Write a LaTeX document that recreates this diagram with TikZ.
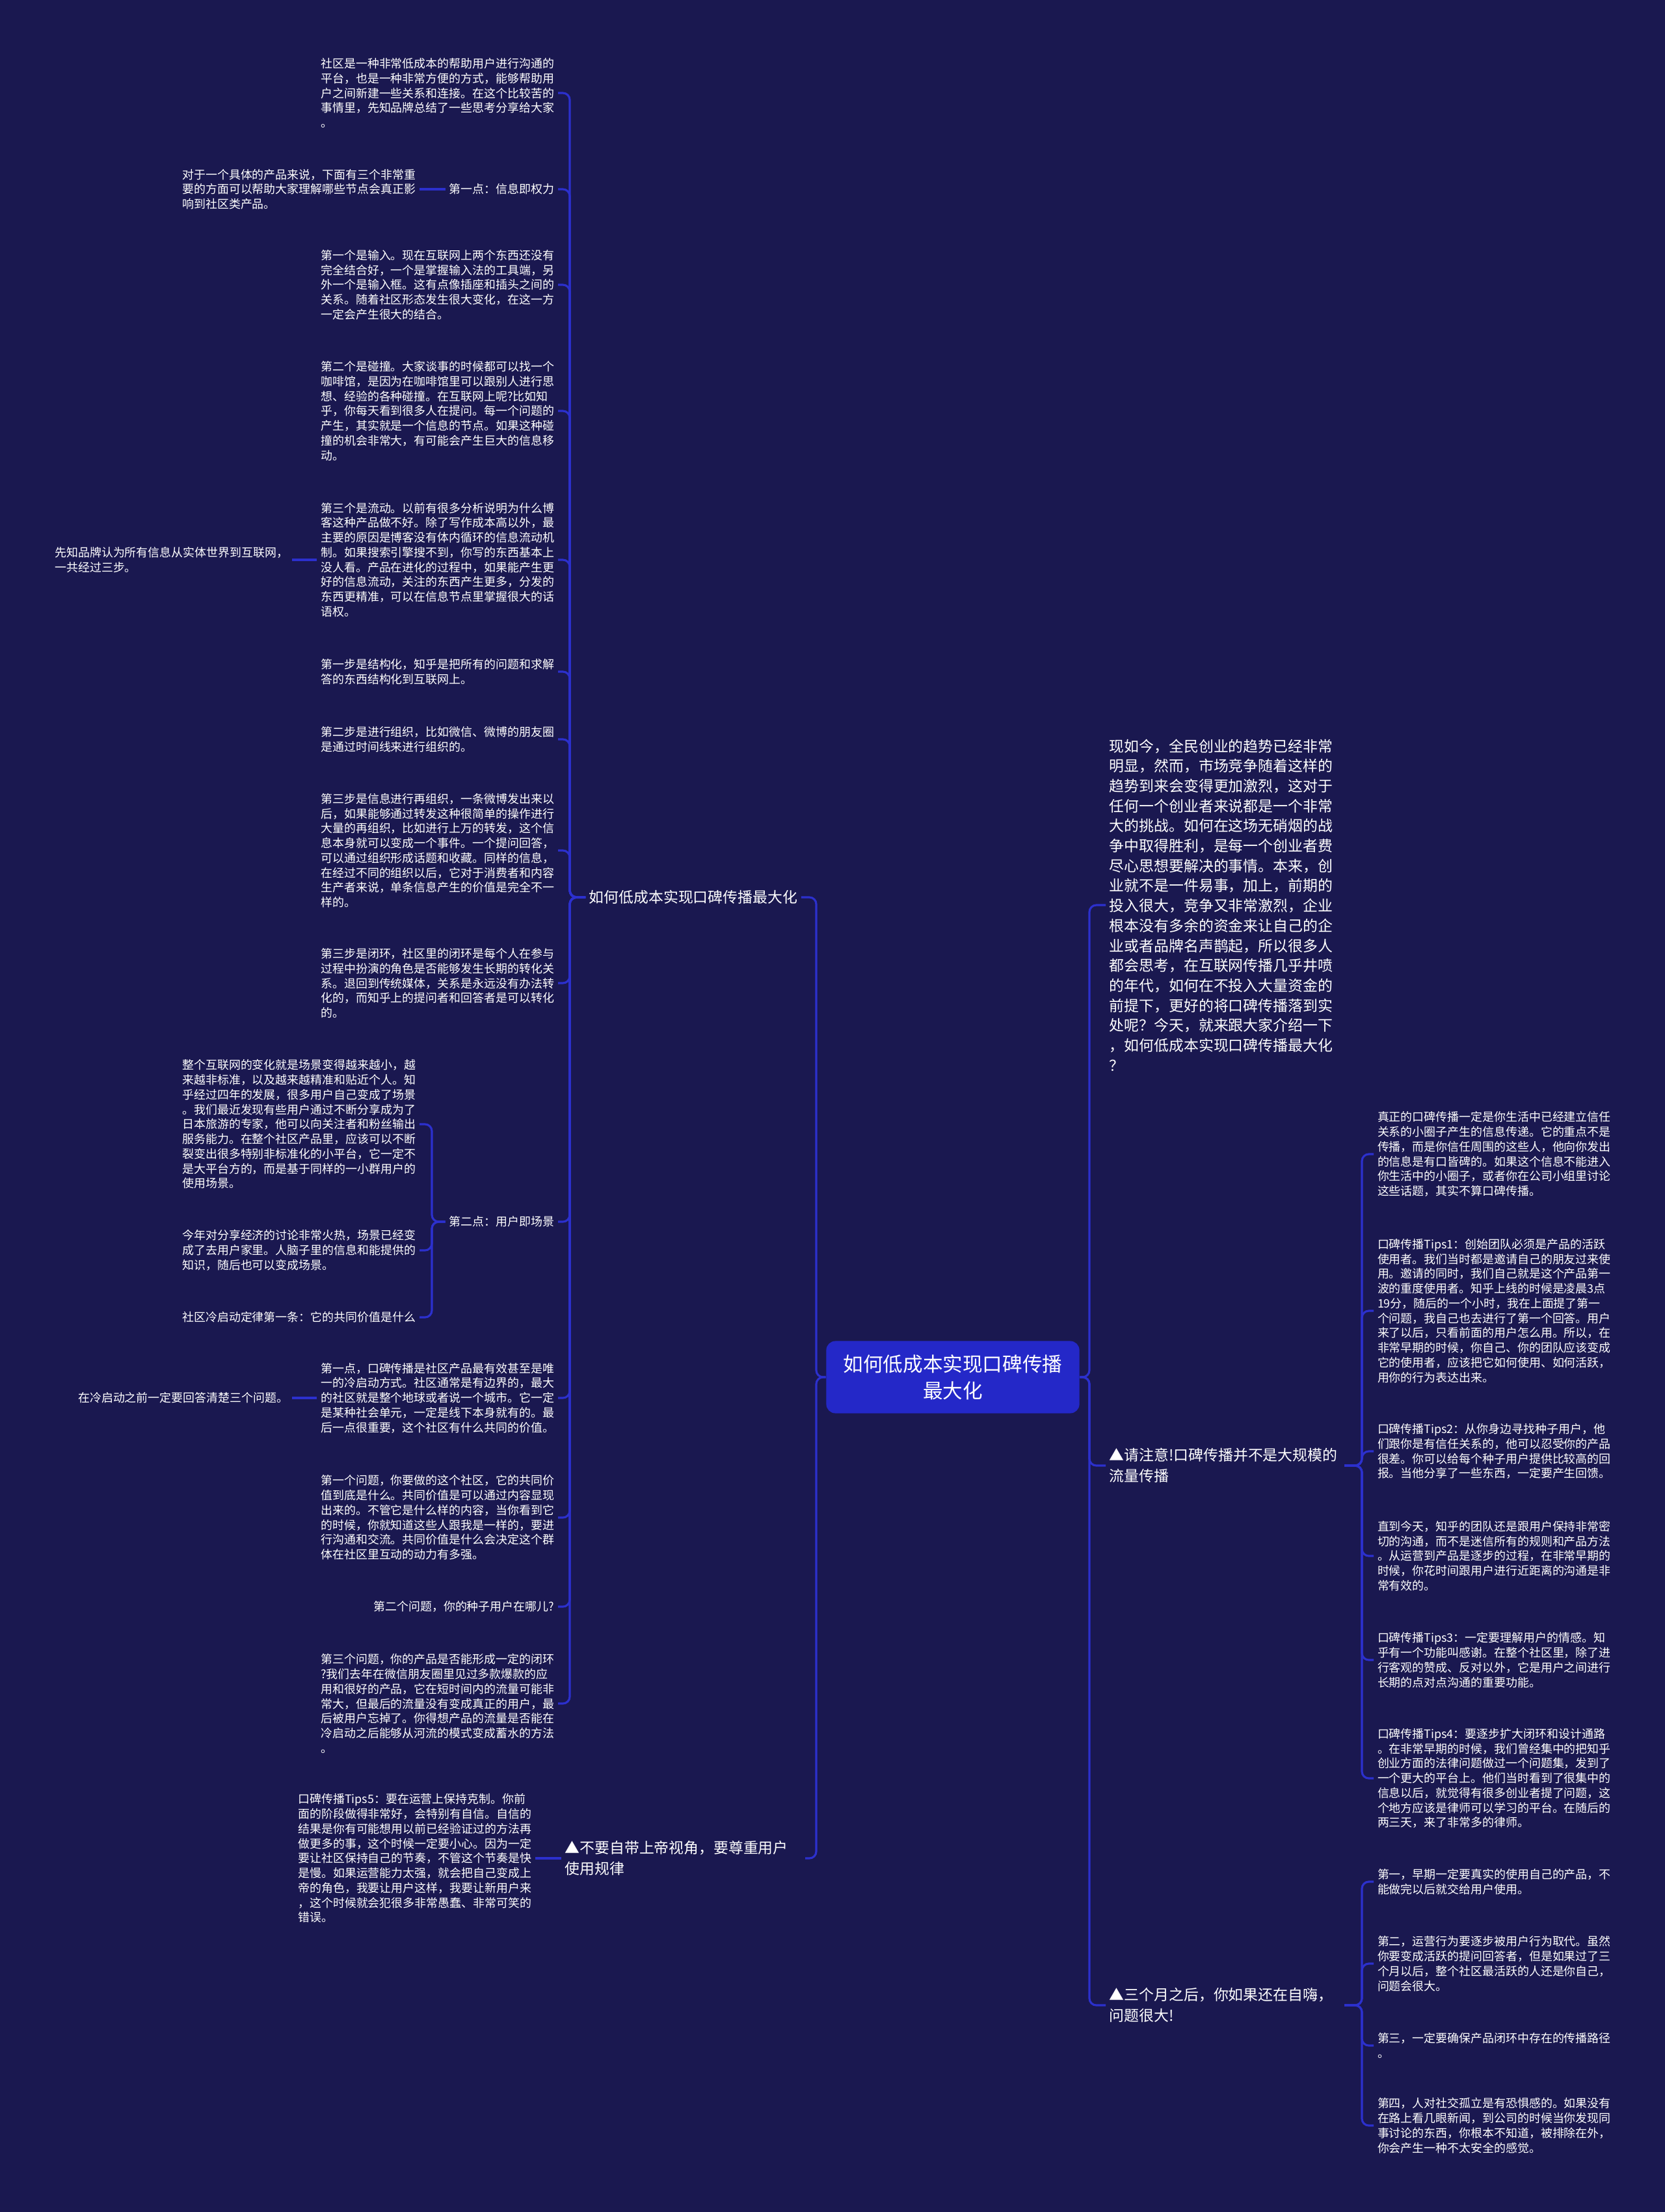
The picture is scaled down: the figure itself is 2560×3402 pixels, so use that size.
\documentclass[tikz,border=0pt]{standalone}
\usepackage{fontspec}
\setmainfont{Noto Sans CJK SC}
\usetikzlibrary{positioning, calc}
\definecolor{BgNavy}{RGB}{26, 24, 80}
\definecolor{LinkBlue}{RGB}{44, 48, 205}
\definecolor{RootBlue}{RGB}{36, 40, 200}
\newcommand{\leaffont}{\fontsize{5.1pt}{6.47pt}\selectfont}
\newcommand{\labfont}{\fontsize{6.5pt}{9.2pt}\selectfont}
\newcommand{\introfont}{\fontsize{6.5pt}{8.73pt}\selectfont}

\begin{document}
\begin{tikzpicture}[x=0.01cm, y=-0.01cm,
	leafl/.style={anchor=east, text=white, font=\leaffont, align=left, inner sep=1.5pt},
	leafr/.style={anchor=west, text=white, font=\leaffont, align=left, inner sep=1.5pt},
	lab/.style={text=white, font=\labfont, align=left, inner sep=1.5pt},
	root/.style={fill=RootBlue, rounded corners=4pt, text=white, align=center,
		font=\fontsize{8.7pt}{11.7pt}\selectfont, minimum width=3.89cm, minimum height=1.11cm},
	link/.style={draw=LinkBlue, line width=0.9pt, rounded corners=3pt}]
	\fill[BgNavy] (0,0) rectangle (2560,3402);

	% centre
	\node[root] (root) at (1465,2118) {如何低成本实现口碑传播\\最大化};

	% main branches
	\node[lab, anchor=west] (l1) at (900,1380) {如何低成本实现口碑传播最大化};
	\node[lab, anchor=east, text width=3.63cm] (l2) at (1238,2858) {▲不要自带上帝视角，要尊重用户\\使用规律};
	\node[anchor=west, text=white, font=\introfont, align=left, inner sep=1.5pt] (r1) at (1700,1392) {现如今，全民创业的趋势已经非常\\明显，然而，市场竞争随着这样的\\趋势到来会变得更加激烈，这对于\\任何一个创业者来说都是一个非常\\大的挑战。如何在这场无硝烟的战\\争中取得胜利，是每一个创业者费\\尽心思想要解决的事情。本来，创\\业就不是一件易事，加上，前期的\\投入很大，竞争又非常激烈，企业\\根本没有多余的资金来让自己的企\\业或者品牌名声鹊起，所以很多人\\都会思考，在互联网传播几乎井喷\\的年代，如何在不投入大量资金的\\前提下，更好的将口碑传播落到实\\处呢？今天，就来跟大家介绍一下\\，如何低成本实现口碑传播最大化\\？};
	\node[lab, anchor=west, text width=3.55cm] (r2) at (1700,2254) {▲请注意!口碑传播并不是大规模的\\流量传播};
	\node[lab, anchor=west, text width=3.55cm] (r3) at (1700,3084) {▲三个月之后，你如果还在自嗨，\\问题很大!};

	% left branch: children
	\node[leafl] (a1) at (858,143) {社区是一种非常低成本的帮助用户进行沟通的\\平台，也是一种非常方便的方式，能够帮助用\\户之间新建一些关系和连接。在这个比较苦的\\事情里，先知品牌总结了一些思考分享给大家\\。};
	\node[leafl] (a2) at (858,291) {第一点：信息即权力};
	\node[leafl] (a3) at (858,438) {第一个是输入。现在互联网上两个东西还没有\\完全结合好，一个是掌握输入法的工具端，另\\外一个是输入框。这有点像插座和插头之间的\\关系。随着社区形态发生很大变化，在这一方\\一定会产生很大的结合。};
	\node[leafl] (a4) at (858,632) {第二个是碰撞。大家谈事的时候都可以找一个\\咖啡馆，是因为在咖啡馆里可以跟别人进行思\\想、经验的各种碰撞。在互联网上呢?比如知\\乎，你每天看到很多人在提问。每一个问题的\\产生，其实就是一个信息的节点。如果这种碰\\撞的机会非常大，有可能会产生巨大的信息移\\动。};
	\node[leafl] (a5) at (858,861) {第三个是流动。以前有很多分析说明为什么博\\客这种产品做不好。除了写作成本高以外，最\\主要的原因是博客没有体内循环的信息流动机\\制。如果搜索引擎搜不到，你写的东西基本上\\没人看。产品在进化的过程中，如果能产生更\\好的信息流动，关注的东西产生更多，分发的\\东西更精准，可以在信息节点里掌握很大的话\\语权。};
	\node[leafl] (a6) at (858,1033) {第一步是结构化，知乎是把所有的问题和求解\\答的东西结构化到互联网上。};
	\node[leafl] (a7) at (858,1137) {第二步是进行组织，比如微信、微博的朋友圈\\是通过时间线来进行组织的。};
	\node[leafl] (a8) at (858,1308) {第三步是信息进行再组织，一条微博发出来以\\后，如果能够通过转发这种很简单的操作进行\\大量的再组织，比如进行上万的转发，这个信\\息本身就可以变成一个事件。一个提问回答，\\可以通过组织形成话题和收藏。同样的信息，\\在经过不同的组织以后，它对于消费者和内容\\生产者来说，单条信息产生的价值是完全不一\\样的。};
	\node[leafl] (a9) at (858,1512) {第三步是闭环，社区里的闭环是每个人在参与\\过程中扮演的角色是否能够发生长期的转化关\\系。退回到传统媒体，关系是永远没有办法转\\化的，而知乎上的提问者和回答者是可以转化\\的。};
	\node[leafl] (a10) at (858,1879) {第二点：用户即场景};
	\node[leafl] (a11) at (858,2150) {第一点，口碑传播是社区产品最有效甚至是唯\\一的冷启动方式。社区通常是有边界的，最大\\的社区就是整个地球或者说一个城市。它一定\\是某种社会单元，一定是线下本身就有的。最\\后一点很重要，这个社区有什么共同的价值。};
	\node[leafl] (a12) at (858,2334) {第一个问题，你要做的这个社区，它的共同价\\值到底是什么。共同价值是可以通过内容显现\\出来的。不管它是什么样的内容，当你看到它\\的时候，你就知道这些人跟我是一样的，要进\\行沟通和交流。共同价值是什么会决定这个群\\体在社区里互动的动力有多强。};
	\node[leafl] (a13) at (858,2471) {第二个问题，你的种子用户在哪儿?};
	\node[leafl] (a14) at (858,2620) {第三个问题，你的产品是否能形成一定的闭环\\?我们去年在微信朋友圈里见过多款爆款的应\\用和很好的产品，它在短时间内的流量可能非\\常大，但最后的流量没有变成真正的用户，最\\后被用户忘掉了。你得想产品的流量是否能在\\冷启动之后能够从河流的模式变成蓄水的方法\\。};

	% left branch: grandchildren
	\node[leafl] (a2x) at (645,291) {对于一个具体的产品来说，下面有三个非常重\\要的方面可以帮助大家理解哪些节点会真正影\\响到社区类产品。};
	\node[leafl] (a5x) at (449,861) {先知品牌认为所有信息从实体世界到互联网，\\一共经过三步。};
	\node[leafl] (a10a) at (645,1729) {整个互联网的变化就是场景变得越来越小，越\\来越非标准，以及越来越精准和贴近个人。知\\乎经过四年的发展，很多用户自己变成了场景\\。我们最近发现有些用户通过不断分享成为了\\日本旅游的专家，他可以向关注者和粉丝输出\\服务能力。在整个社区产品里，应该可以不断\\裂变出很多特别非标准化的小平台，它一定不\\是大平台方的，而是基于同样的一小群用户的\\使用场景。};
	\node[leafl] (a10b) at (645,1923) {今年对分享经济的讨论非常火热，场景已经变\\成了去用户家里。人脑子里的信息和能提供的\\知识，随后也可以变成场景。};
	\node[leafl] (a10c) at (645,2026) {社区冷启动定律第一条：它的共同价值是什么};
	\node[leafl] (a11x) at (449,2150) {在冷启动之前一定要回答清楚三个问题。};
	\node[leafl] (t5) at (823,2858) {口碑传播Tips5：要在运营上保持克制。你前\\面的阶段做得非常好，会特别有自信。自信的\\结果是你有可能想用以前已经验证过的方法再\\做更多的事，这个时候一定要小心。因为一定\\要让社区保持自己的节奏，不管这个节奏是快\\是慢。如果运营能力太强，就会把自己变成上\\帝的角色，我要让用户这样，我要让新用户来\\，这个时候就会犯很多非常愚蠢、非常可笑的\\错误。};

	% right branches: children
	\node[leafr] (b1) at (2112,1775) {真正的口碑传播一定是你生活中已经建立信任\\关系的小圈子产生的信息传递。它的重点不是\\传播，而是你信任周围的这些人，他向你发出\\的信息是有口皆碑的。如果这个信息不能进入\\你生活中的小圈子，或者你在公司小组里讨论\\这些话题，其实不算口碑传播。};
	\node[leafr] (b2) at (2112,2016) {口碑传播Tips1：创始团队必须是产品的活跃\\使用者。我们当时都是邀请自己的朋友过来使\\用。邀请的同时，我们自己就是这个产品第一\\波的重度使用者。知乎上线的时候是凌晨3点\\19分，随后的一个小时，我在上面提了第一\\个问题，我自己也去进行了第一个回答。用户\\来了以后，只看前面的用户怎么用。所以，在\\非常早期的时候，你自己、你的团队应该变成\\它的使用者，应该把它如何使用、如何活跃，\\用你的行为表达出来。};
	\node[leafr] (b3) at (2112,2232) {口碑传播Tips2：从你身边寻找种子用户，他\\们跟你是有信任关系的，他可以忍受你的产品\\很差。你可以给每个种子用户提供比较高的回\\报。当他分享了一些东西，一定要产生回馈。};
	\node[leafr] (b4) at (2112,2393) {直到今天，知乎的团队还是跟用户保持非常密\\切的沟通，而不是迷信所有的规则和产品方法\\。从运营到产品是逐步的过程，在非常早期的\\时候，你花时间跟用户进行近距离的沟通是非\\常有效的。};
	\node[leafr] (b5) at (2112,2553) {口碑传播Tips3：一定要理解用户的情感。知\\乎有一个功能叫感谢。在整个社区里，除了进\\行客观的赞成、反对以外，它是用户之间进行\\长期的点对点沟通的重要功能。};
	\node[leafr] (b6) at (2112,2735) {口碑传播Tips4：要逐步扩大闭环和设计通路\\。在非常早期的时候，我们曾经集中的把知乎\\创业方面的法律问题做过一个问题集，发到了\\一个更大的平台上。他们当时看到了很集中的\\信息以后，就觉得有很多创业者提了问题，这\\个地方应该是律师可以学习的平台。在随后的\\两三天，来了非常多的律师。};
	\node[leafr] (c1) at (2112,2894) {第一，早期一定要真实的使用自己的产品，不\\能做完以后就交给用户使用。};
	\node[leafr] (c2) at (2112,3020) {第二，运营行为要逐步被用户行为取代。虽然\\你要变成活跃的提问回答者，但是如果过了三\\个月以后，整个社区最活跃的人还是你自己，\\问题会很大。};
	\node[leafr] (c3) at (2112,3146) {第三，一定要确保产品闭环中存在的传播路径\\。};
	\node[leafr] (c4) at (2112,3269) {第四，人对社交孤立是有恐惧感的。如果没有\\在路上看几眼新闻，到公司的时候当你发现同\\事讨论的东西，你根本不知道，被排除在外，\\你会产生一种不太安全的感觉。};

	% trunk and bracket x positions
	\coordinate (tl) at (1255,0);
	\coordinate (tr) at (1675,0);
	\coordinate (bl) at (876,0);
	\coordinate (bp) at (664,0);
	\coordinate (br) at (2094,0);

	% connectors
	\foreach \c in {l1,l2} \draw[link] (root.west) -- (tl |- root.west) |- (\c.east);
	\foreach \c in {r1,r2,r3} \draw[link] (root.east) -- (tr |- root.east) |- (\c.west);
	\foreach \c in {a1,a2,a3,a4,a5,a6,a7,a8,a9,a10,a11,a12,a13,a14}
		\draw[link] (l1.west) -- (bl |- l1.west) |- (\c.east);
	\foreach \c in {a10a,a10b,a10c} \draw[link] (a10.west) -- (bp |- a10.west) |- (\c.east);
	\foreach \c in {b1,b2,b3,b4,b5,b6} \draw[link] (r2.east) -- (br |- r2.east) |- (\c.west);
	\foreach \c in {c1,c2,c3,c4} \draw[link] (r3.east) -- (br |- r3.east) |- (\c.west);
	\draw[link] (a2.west) -- (a2x.east);
	\draw[link] (a5.west) -- (a5x.east);
	\draw[link] (a11.west) -- (a11x.east);
	\draw[link] (l2.west) -- (t5.east);
\end{tikzpicture}
\end{document}
